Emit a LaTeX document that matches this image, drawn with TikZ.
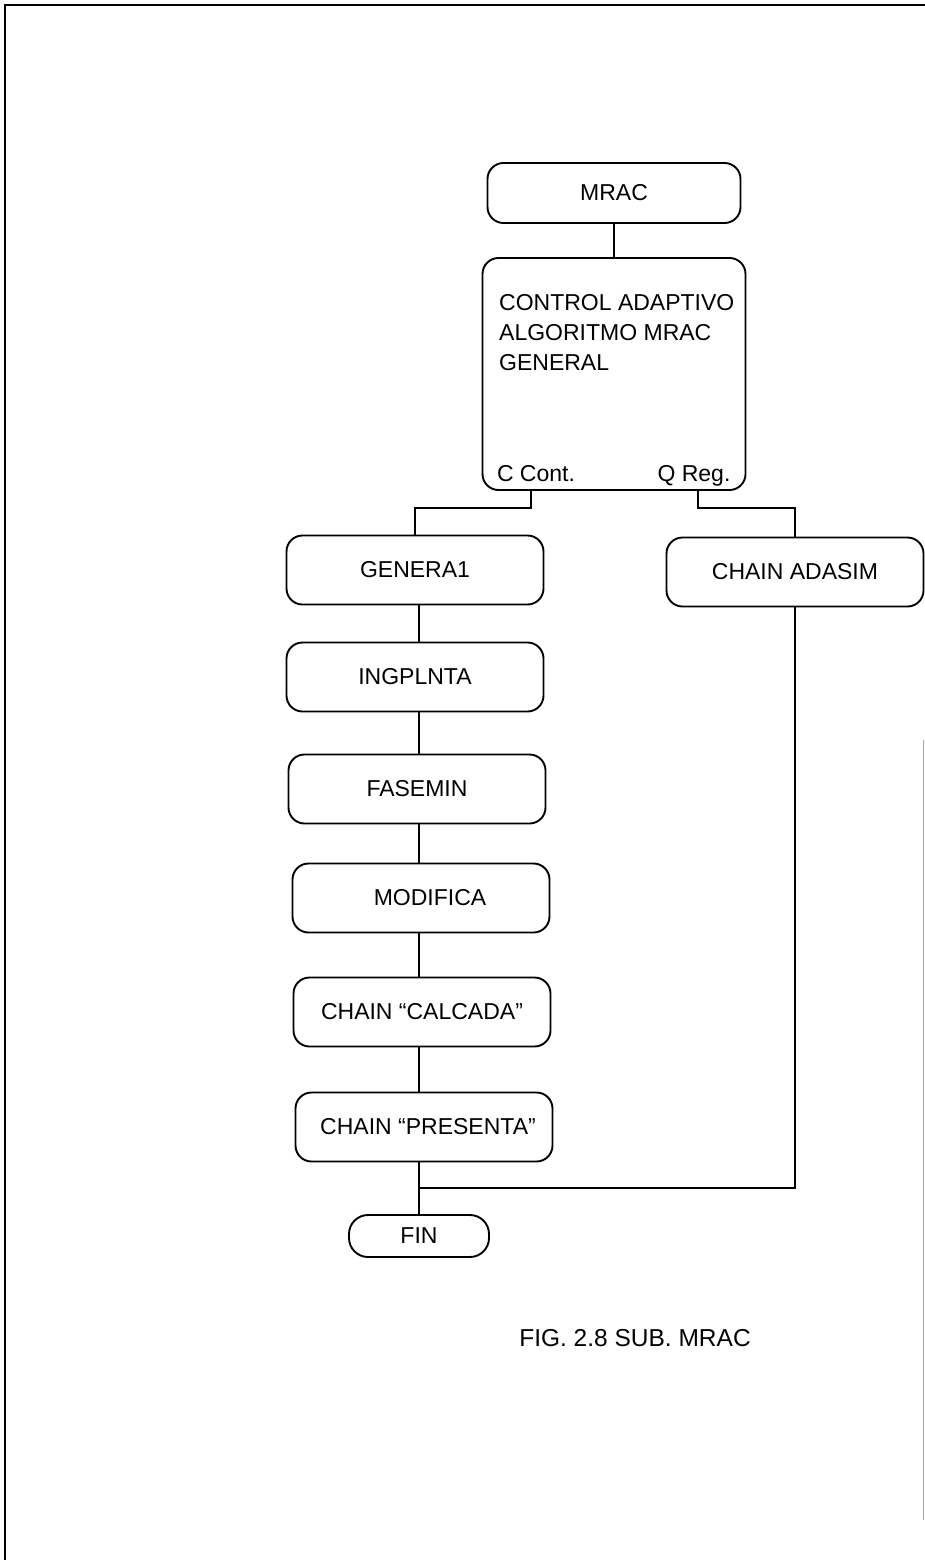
\documentclass[tikz,border=0pt]{standalone}
\usepackage{fontspec}
\setmainfont{Liberation Sans}
\begin{document}
\begin{tikzpicture}[x=1pt,y=-1pt,
  blk/.style={draw, line width=1.9pt, rounded corners=16pt,
    minimum width=257pt, minimum height=69pt, inner sep=0pt,
    font=\fontsize{23}{27}\selectfont},
  txt/.style={inner sep=0pt, font=\fontsize{23}{30}\selectfont},
  ln/.style={line width=1.9pt}]
\useasboundingbox (0,0) rectangle (925,1560);

% page frame
\draw[line width=2.4pt] (5,1560) -- (5,5) -- (925,5);
\draw[black!35, line width=1pt] (923,740) -- (923,1520);

% main routine and general algorithm block
\node[blk, minimum width=253pt, minimum height=60pt] (mrac) at (614,193) {MRAC};
\node[blk, minimum width=263pt, minimum height=232pt] (ctrl) at (614,374) {};
\node[txt, anchor=north west, align=left] (ctrltext) at (499,294)
  {CONTROL ADAPTIVO\\ALGORITMO MRAC\\GENERAL};
\node[txt, anchor=base] (cont) at (536,481) {C Cont.};
\node[txt, anchor=base] (qreg) at (694,481) {Q Reg.};

% continuous-control branch
\node[blk] (gen)  at (415,570)  {GENERA1};
\node[blk] (ing)  at (415,677)  {INGPLNTA};
\node[blk] (fas)  at (417,789)  {FASEMIN};
\node[blk] (mod)  at (421,898)  {\hspace*{18pt}MODIFICA};
\node[blk] (cal)  at (422,1012) {CHAIN “CALCADA”};
\node[blk] (pres) at (424,1127) {\hspace*{8pt}CHAIN “PRESENTA”};

% regulation branch
\node[blk] (ada) at (795,572) {CHAIN ADASIM};

% end
\node[blk, minimum width=140pt, minimum height=42pt, rounded corners=19pt] (fin) at (419,1236) {FIN};

\node[inner sep=0pt, font=\fontsize{24.5}{30}\selectfont] (cap) at (635,1338) {FIG. 2.8 SUB. MRAC};

% connectors
\coordinate (spine) at (419,0);
\coordinate (lb) at (531,508);
\coordinate (rb) at (698,508);
\coordinate (jn) at (419,1188);

\draw[ln] (mrac) -- (ctrl);
\draw[ln] (lb |- ctrl.south) -- (lb) -| (gen.north);
\draw[ln] (rb |- ctrl.south) -- (rb) -| (ada.north);
\draw[ln] (spine |- gen.south) -- (spine |- ing.north);
\draw[ln] (spine |- ing.south) -- (spine |- fas.north);
\draw[ln] (spine |- fas.south) -- (spine |- mod.north);
\draw[ln] (spine |- mod.south) -- (spine |- cal.north);
\draw[ln] (spine |- cal.south) -- (spine |- pres.north);
\draw[ln] (spine |- pres.south) -- (fin.north);
\draw[ln] (ada.south) |- (jn);
\end{tikzpicture}
\end{document}
